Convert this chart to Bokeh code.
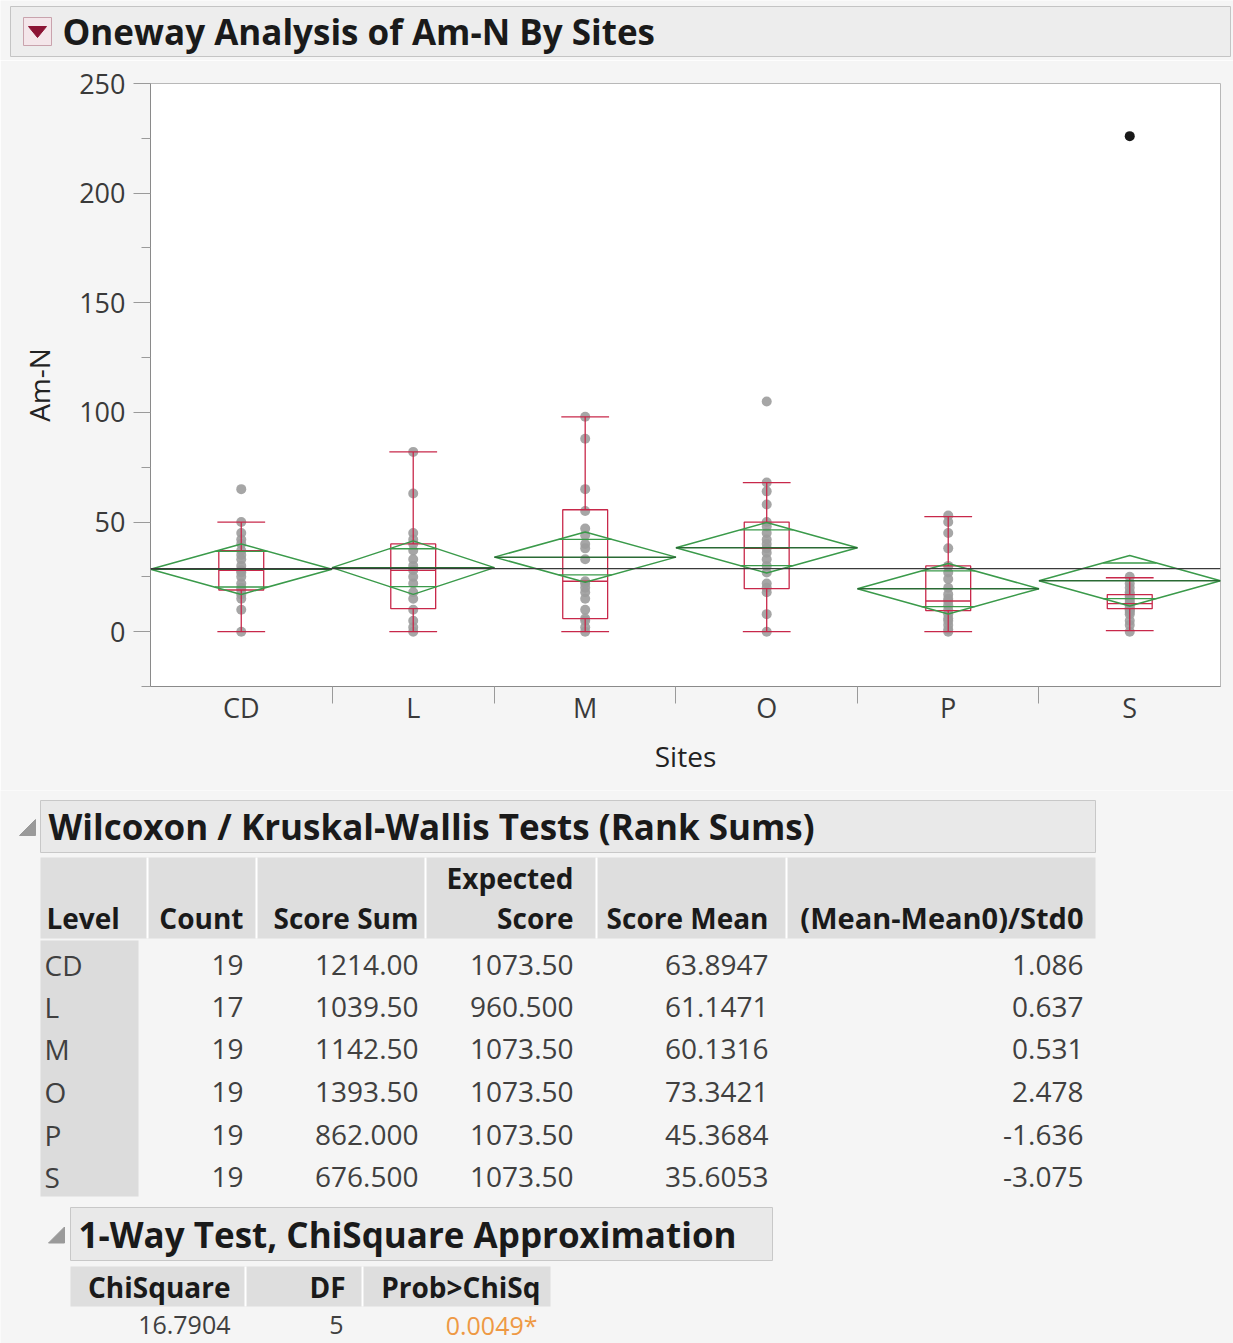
from bokeh.plotting import figure
from bokeh.models import Range1d, FixedTicker, Span, ColumnDataSource
from bokeh.layouts import column
from bokeh.embed import file_html
from bokeh.resources import INLINE
from bokeh.core.properties import value
import numpy as np

# ---------------- data ----------------
sites = ["CD", "L", "M", "O", "P", "S"]
counts = [19, 17, 19, 19, 19, 19]

amn_CD = [65, 50, 45, 42, 40, 37, 35, 33, 30, 28, 27, 25, 22, 20, 19, 17, 15, 10, 0]
amn_L = [82, 63, 45, 42, 40, 37, 33, 30, 28, 25, 22, 18, 15, 10, 5, 2, 0]
amn_M = [98, 88, 65, 55, 47, 44, 40, 38, 33, 23, 22, 20, 18, 15, 10, 6, 5, 2, 0]
amn_O = [105, 68, 64, 58, 50, 48, 45, 42, 40, 38, 36, 33, 30, 27, 22, 20, 18, 8, 0]
amn_P = [53, 50, 45, 38, 30, 27, 24, 20, 17, 15, 14, 12, 10, 8, 6, 5, 3, 1, 0]
amn_S = [226, 25, 22, 20, 18, 17, 16, 15, 14, 13, 12, 11, 10, 10, 9, 8, 5, 3, 0]
amn_values = [amn_CD, amn_L, amn_M, amn_O, amn_P, amn_S]
marked_site = "S"
marked_value = 226

group_means = [28.5, 29.2, 34.0, 38.3, 19.6, 23.2]
ci_half = [11.5, 12.2, 11.5, 11.5, 11.5, 11.5]
box_lo = [0, 0, 0, 0, 0, 0.5]
box_q1 = [19.0, 10.5, 6.0, 19.6, 9.6, 10.5]
box_med = [28.0, 28.0, 23.0, 38.0, 14.0, 12.8]
box_q3 = [37.0, 40.0, 55.6, 50.0, 30.0, 16.9]
box_hi = [50.0, 82.0, 98.0, 68.0, 52.5, 24.6]

y_ticks = [0, 50, 100, 150, 200, 250]
y_minor = [-25, 25, 75, 125, 175, 225]

levels = sites
score_sum = ["1214.00", "1039.50", "1142.50", "1393.50", "862.000", "676.500"]
expected_score = ["1073.50", "960.500", "1073.50", "1073.50", "1073.50", "1073.50"]
score_mean = ["63.8947", "61.1471", "60.1316", "73.3421", "45.3684", "35.6053"]
std_score = ["1.086", "0.637", "0.531", "2.478", "-1.636", "-3.075"]
chisquare = ["16.7904"]
chi_df = ["5"]
prob_chisq = ["0.0049*"]

FONT = "Open Sans"
BG = "#f5f5f5"
W = 1233


def no_align(fig):
    try:
        fig.frame_align = False
    except Exception:
        pass


def canvas(h, y0):
    c = figure(width=W, height=h, x_range=Range1d(0, W), y_range=Range1d(y0 + h, y0),
               output_backend="svg", toolbar_location=None, min_border=0)
    c.axis.visible = False
    c.grid.visible = False
    c.outline_line_color = None
    c.background_fill_color = BG
    c.border_fill_color = BG
    no_align(c)
    return c


def txt(c, x, y, s, size, bold=False, align="left", color="#1a1a1a"):
    c.text(x=[x], y=[y], text=[s], text_font=value(FONT), text_font_size=size,
           text_font_style="bold" if bold else "normal", text_align=align,
           text_baseline="middle", text_color=color)


# ---------------- header ----------------
hdr = canvas(60, 0)
hdr.quad(left=[10], right=[1230], top=[6], bottom=[56], fill_color="#ededed", line_color="#c4c4c4")
hdr.quad(left=[23], right=[51], top=[17], bottom=[45], fill_color="#f4e6ea", line_color="#c9a3ad")
hdr.patch(x=[28, 46, 37], y=[26, 26, 37], fill_color="#8c1434", line_color="#8c1434")
txt(hdr, 62, 31, "Oneway Analysis of Am-N By Sites", "35px", bold=True)

# ---------------- chart ----------------
bounds = np.concatenate([[0], np.cumsum(counts)]).astype(float)
centers = (bounds[:-1] + bounds[1:]) / 2.0
widths = np.diff(bounds)

p = figure(width=W, height=730, x_range=Range1d(0, bounds[-1]), y_range=Range1d(-25, 250),
           output_backend="svg", toolbar_location=None,
           min_border_left=150, min_border_right=13, min_border_top=23, min_border_bottom=104)
no_align(p)
p.background_fill_color = "white"
p.border_fill_color = BG
p.outline_line_color = "#b8b8b8"
p.grid.visible = False

p.yaxis.ticker = FixedTicker(ticks=y_ticks, minor_ticks=y_minor)
p.yaxis.major_tick_out = 17
p.yaxis.major_tick_in = 0
p.yaxis.minor_tick_out = 9
p.yaxis.minor_tick_in = 0
p.yaxis.major_label_standoff = 8
p.yaxis.axis_label = "Am-N"
p.yaxis.axis_label_standoff = 18

p.xaxis.ticker = FixedTicker(ticks=list(centers), minor_ticks=list(bounds[1:-1]))
p.xaxis.major_label_overrides = {float(c): s for c, s in zip(centers, sites)}
p.xaxis.major_tick_out = 0
p.xaxis.major_tick_in = 0
p.xaxis.minor_tick_out = 17
p.xaxis.minor_tick_in = 0
p.xaxis.major_label_standoff = -15
p.xaxis.axis_label = "Sites"
p.xaxis.axis_label_standoff = 8

for ax in (p.xaxis, p.yaxis):
    ax.axis_line_color = "#8a8a8a"
    ax.major_tick_line_color = "#9a9a9a"
    ax.minor_tick_line_color = "#9a9a9a"
    ax.major_label_text_font = FONT
    ax.major_label_text_font_size = "27px"
    ax.major_label_text_color = "#3a3a3a"
    ax.axis_label_text_font = FONT
    ax.axis_label_text_font_size = "28px"
    ax.axis_label_text_font_style = "normal"
    ax.axis_label_text_color = "#222222"

# points
px, py, pc = [], [], []
for s, cx, vals in zip(sites, centers, amn_values):
    for v in vals:
        px.append(cx)
        py.append(v)
        pc.append("black" if (s == marked_site and v == marked_value) else "#9c9c9c")
p.scatter(x=px, y=py, size=10, fill_color=pc, line_color=None, fill_alpha=0.9)

# box plots
BOXW = 4.7
CAPW = 5.0
red = "#c8284a"
p.quad(left=centers - BOXW / 2, right=centers + BOXW / 2, bottom=box_q1, top=box_q3,
       fill_color=None, line_color=red, line_width=1.3)
p.segment(x0=centers - BOXW / 2, x1=centers + BOXW / 2, y0=box_med, y1=box_med, line_color=red, line_width=1.3)
p.segment(x0=centers, x1=centers, y0=box_q3, y1=box_hi, line_color=red, line_width=1.3)
p.segment(x0=centers, x1=centers, y0=box_q1, y1=box_lo, line_color=red, line_width=1.3)
p.segment(x0=centers - CAPW / 2, x1=centers + CAPW / 2, y0=box_hi, y1=box_hi, line_color=red, line_width=1.3)
p.segment(x0=centers - CAPW / 2, x1=centers + CAPW / 2, y0=box_lo, y1=box_lo, line_color=red, line_width=1.3)

# means diamonds
green = "#3a9a4a"
gm = np.array(group_means)
hw = np.array(ci_half)
dx = [[b0, c, b1, c] for b0, c, b1 in zip(bounds[:-1], centers, bounds[1:])]
dy = [[m, m + h, m, m - h] for m, h in zip(gm, hw)]
p.patches(xs=dx, ys=dy, fill_color=None, line_color=green, line_width=1.5)
p.segment(x0=bounds[:-1], x1=bounds[1:], y0=gm, y1=gm, line_color="#2a6a34", line_width=1.5)
ov = hw / np.sqrt(2)
half_len = widths * (1 - 1 / np.sqrt(2)) / 2
for sign in (1, -1):
    p.segment(x0=centers - half_len, x1=centers + half_len, y0=gm + sign * ov, y1=gm + sign * ov,
              line_color=green, line_width=1.3)

grand_mean = float(np.sum(gm * np.array(counts)) / np.sum(counts))
p.add_layout(Span(location=grand_mean, dimension="width", line_color="#3a3a3a", line_width=1.3))

# ---------------- tables ----------------
tb = canvas(553, 790)


def section(c, x0, x1, y0, y1, title, tri_x):
    c.quad(left=[x0], right=[x1], top=[y0], bottom=[y1], fill_color="#e9e9e9", line_color="#c8c8c8")
    cy = (y0 + y1) / 2
    c.patch(x=[tri_x, tri_x + 16, tri_x + 16], y=[cy + 9, cy + 9, cy - 7],
            fill_color="#9a9a9a", line_color="#9a9a9a")
    txt(c, x0 + 8, cy, title, "35px", bold=True)


section(tb, 40, 1095, 800, 852, "Wilcoxon / Kruskal-Wallis Tests (Rank Sums)", 19)
tb.quad(left=[40], right=[1095], top=[857], bottom=[938], fill_color="#dedede", line_color=None)
for sx in [147, 256, 425, 596, 786]:
    tb.segment(x0=[sx], x1=[sx], y0=[857], y1=[938], line_color="white", line_width=2)
tb.quad(left=[40], right=[138], top=[940], bottom=[1196], fill_color="#dcdcdc", line_color=None)

HS = "28px"
txt(tb, 46, 917, "Level", HS, bold=True)
txt(tb, 243, 917, "Count", HS, bold=True, align="right")
txt(tb, 418, 917, "Score Sum", HS, bold=True, align="right")
txt(tb, 573, 877, "Expected", HS, bold=True, align="right")
txt(tb, 573, 917, "Score", HS, bold=True, align="right")
txt(tb, 768, 917, "Score Mean", HS, bold=True, align="right")
txt(tb, 1083, 917, "(Mean-Mean0)/Std0", "29px", bold=True, align="right")

row_y = [964, 1006, 1048, 1091, 1134, 1176]
DS = "28px"
dcol = "#404040"
src = ColumnDataSource(dict(y=row_y, lev=levels, cnt=[str(c) for c in counts], ss=score_sum,
                            es=expected_score, sm=score_mean, z=std_score))
for xx, col, al in [(44, "lev", "left"), (243, "cnt", "right"), (418, "ss", "right"),
                    (573, "es", "right"), (768, "sm", "right"), (1083, "z", "right")]:
    tb.text(x=xx, y="y", text=col, source=src, text_font=value(FONT), text_font_size=DS,
            text_align=al, text_baseline="middle", text_color=dcol)

section(tb, 70, 772, 1207, 1260, "1-Way Test, ChiSquare Approximation", 48)
tb.quad(left=[70], right=[550], top=[1266], bottom=[1306], fill_color="#dedede", line_color=None)
for sx in [245, 362]:
    tb.segment(x0=[sx], x1=[sx], y0=[1266], y1=[1306], line_color="white", line_width=2)
txt(tb, 230, 1286, "ChiSquare", HS, bold=True, align="right")
txt(tb, 345, 1286, "DF", HS, bold=True, align="right")
txt(tb, 540, 1286, "Prob>ChiSq", HS, bold=True, align="right")
txt(tb, 230, 1324, chisquare[0], "25px", align="right", color=dcol)
txt(tb, 343, 1324, chi_df[0], "25px", align="right", color=dcol)
txt(tb, 537, 1324, prob_chisq[0], "25px", align="right", color="#ee9944")

layout = column(hdr, p, tb, spacing=0)
open("out.html", "w").write(file_html(layout, INLINE))
